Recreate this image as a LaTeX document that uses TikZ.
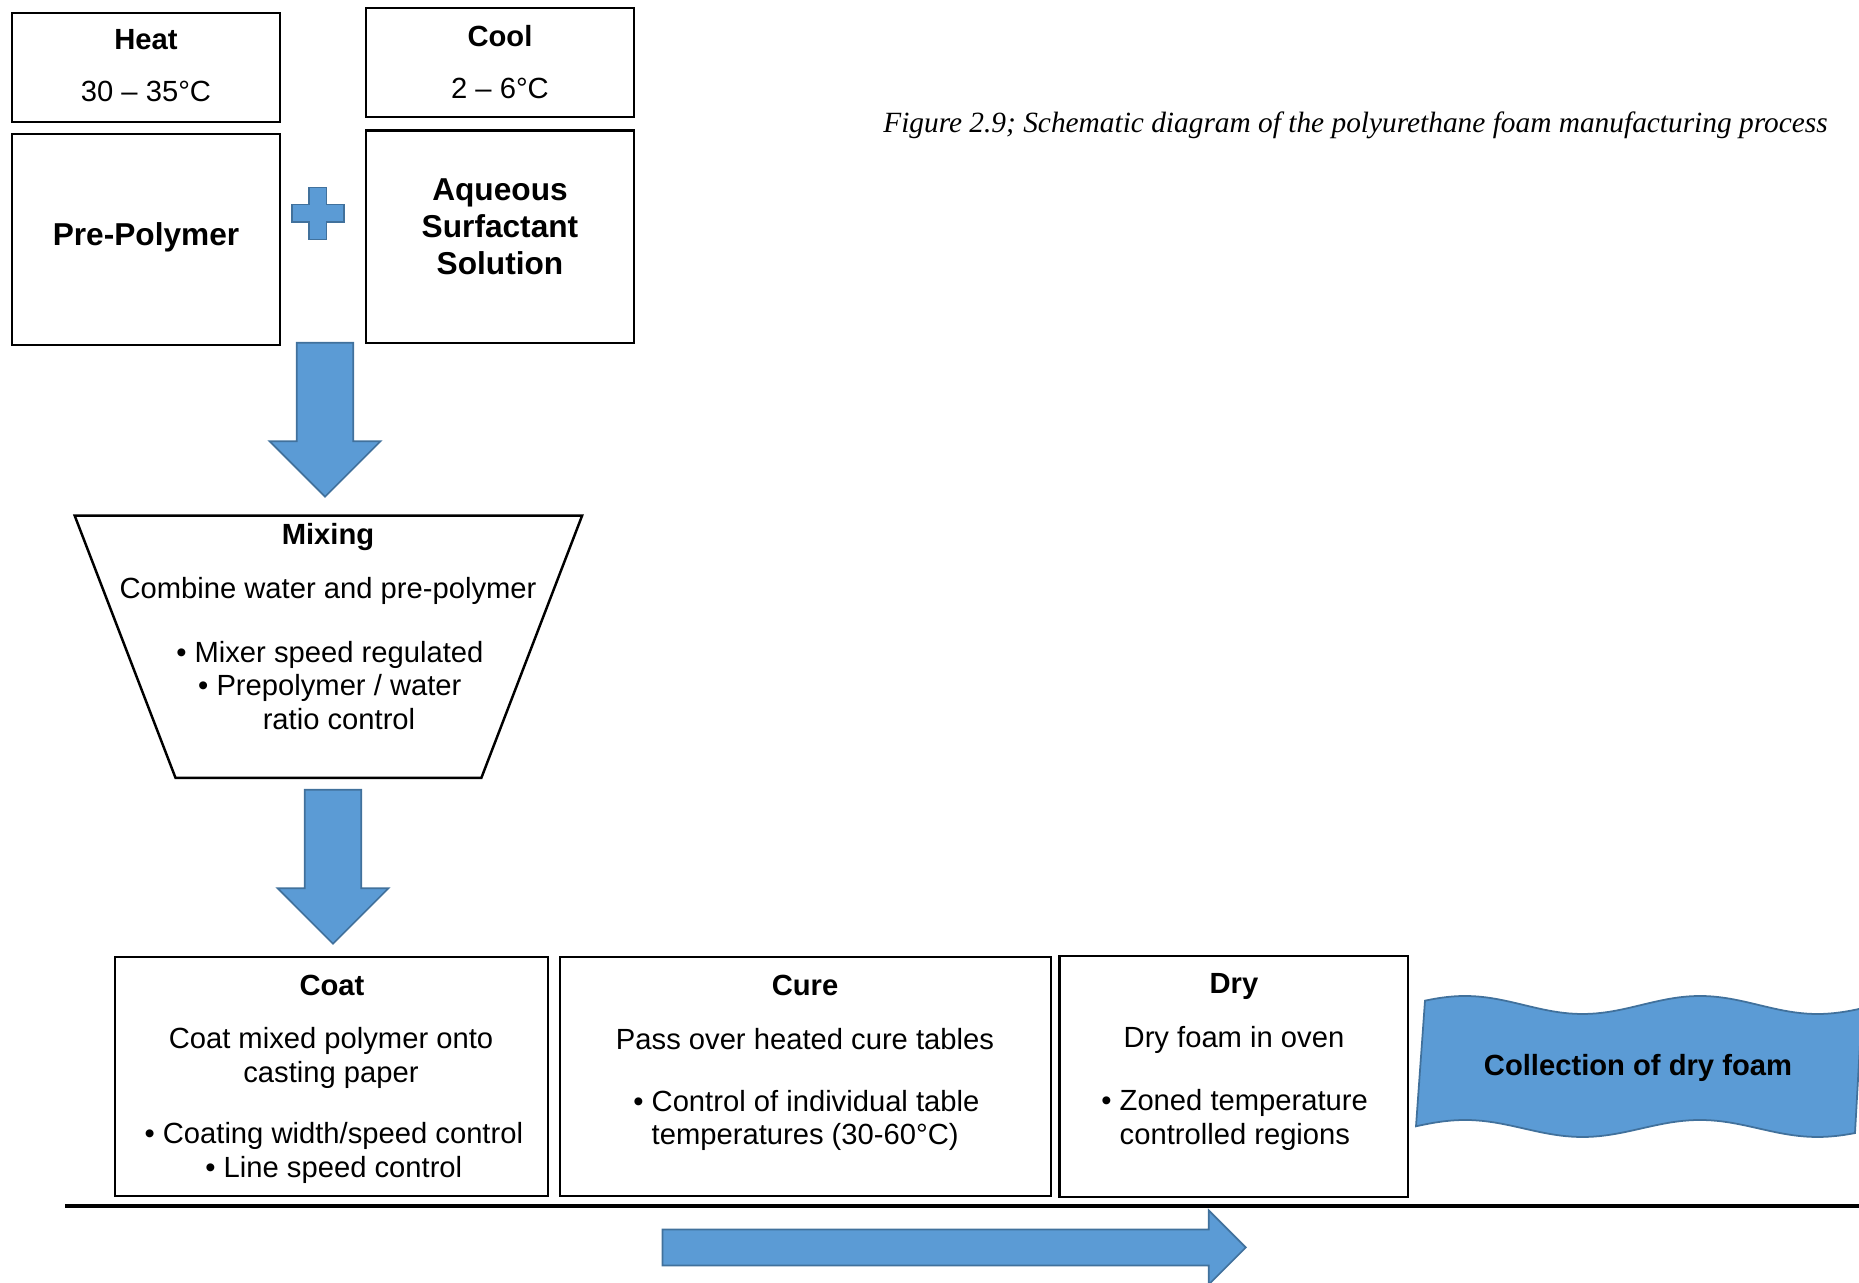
\documentclass[tikz,border=0pt]{standalone}
\usepackage{fontspec}
\setmainfont{Liberation Sans}
\newfontfamily\capfont{Liberation Serif}
\usetikzlibrary{positioning, shapes.arrows}
\definecolor{fillblue}{HTML}{5B9BD5}
\definecolor{edgeblue}{HTML}{41719C}
\tikzset{
  box/.style={draw, line width=0.6pt, inner sep=0pt},
  txt/.style={inner sep=0pt, align=center, font=\fontsize{8.3}{9.6}\selectfont},
  ttl/.style={txt, font=\fontsize{8.3}{9.6}\selectfont\bfseries},
  big/.style={txt, font=\fontsize{9}{10.5}\selectfont\bfseries},
  bluefill/.style={fill=fillblue, draw=edgeblue, line width=0.5pt},
  fatarrow/.style={bluefill, single arrow, single arrow tip angle=90, inner xsep=0pt, anchor=tip},
}
\newcommand{\blt}{\llap{\textbullet\ }}

\begin{document}
\begin{tikzpicture}[x=0.01cm, y=-0.01cm]
    \useasboundingbox (0,0) rectangle (1859,1283);
    %
    \node [box, minimum width=2.68cm, minimum height=1.09cm] (heat) at (146,67.5) {};
    \node [box, minimum width=2.68cm, minimum height=2.11cm, below=0.1cm of heat] (pre) {};
    \node [box, minimum width=2.68cm, minimum height=1.09cm] (cool) at (500.3,62.9) {};
    \node [box, minimum width=2.68cm, minimum height=2.12cm, below=0.11cm of cool] (aq) {};
    \node [ttl] (heatT) at (146,40) {Heat};
    \node [txt] (heatV) at (146,91) {30 – 35°C};
    \node [ttl] (coolT) at (500,36) {Cool};
    \node [txt] (coolV) at (500,88) {2 – 6°C};
    \node [big] (preT) at (146,237.5) {Pre-Polymer};
    \node [big] (aqT) at (500,227) {Aqueous\\Surfactant\\Solution};
    \draw [bluefill] (308.9,187.4) -- ++(17.6,0) -- ++(0,17.2) -- ++(17.2,0) -- ++(0,17.6) -- ++(-17.2,0)
        -- ++(0,17.2) -- ++(-17.6,0) -- ++(0,-17.2) -- ++(-17.2,0) -- ++(0,-17.6) -- ++(17.2,0) -- cycle;
    %
    \node [fatarrow, rotate=-90, inner ysep=0.2725cm, single arrow head extend=0.2725cm, minimum height=1.54cm] (down1) at (325,498) {};
    \draw [line width=0.7pt] (74.7,515.7) -- (582.1,515.7) -- (481.4,777.8) -- (175.5,777.8) -- cycle;
    \node [ttl] (mixT) at (328,537.5) {Mixing};
    \node [txt] (mixA) at (328,590.5) {Combine water and pre-polymer};
    \node [txt] (mixB) at (339,685.5) {\blt Mixer speed regulated\\\blt Prepolymer / water\\ratio control};
    \node [fatarrow, rotate=-90, inner ysep=0.2725cm, single arrow head extend=0.2725cm, minimum height=1.54cm] (down2) at (333,945) {};
    %
    \node [box, minimum width=4.33cm, minimum height=2.395cm] (coat) at (331.4,1076.5) {};
    \node [box, minimum width=4.91cm, minimum height=2.395cm, right=0.095cm of coat] (cure) {};
    \node [box, minimum width=3.485cm, minimum height=2.405cm, right=0.065cm of cure] (dry) {};
    \node [ttl] (coatT) at (332,985) {Coat};
    \node [txt] (coatA) at (331,1058) {Coat mixed polymer onto\\casting paper};
    \node [txt] (coatB) at (343,1153) {\blt Coating width/speed control\\\blt Line speed control};
    \node [ttl] (cureT) at (805,985) {Cure};
    \node [txt] (cureA) at (805,1039) {Pass over heated cure tables};
    \node [txt, align=left, anchor=west] (cureB) at (651,1120.5) {\blt Control of individual table\\temperatures (30-60°C)};
    \node [ttl] (dryT) at (1234,986) {Dry};
    \node [txt] (dryA) at (1234,1040) {Dry foam in oven};
    \node [txt, align=left, anchor=west] (dryB) at (1119,1120) {\blt Zoned temperature\\controlled regions};
    %
    \draw [bluefill] plot[domain=1425:1862, samples=80] (\x, {1005-9*cos((\x-1465)*1.5319)})
        -- plot[domain=1855:1416, samples=80] (\x, {1128.5-8.5*cos((\x-1465)*1.5319)}) -- cycle;
    \node [ttl] (coll) at (1638,1068) {Collection of dry foam};
    %
    \coordinate (l0) at (65,1206);
    \coordinate (l1) at (1859,1206);
    \draw [line width=1.2pt] (l0) -- (l1);
    \node [fatarrow, inner ysep=0.1715cm, single arrow head extend=0.19cm, minimum height=5.83cm] (flow) at (1247,1247.5) {};
    %
    \node [inner sep=0pt, font=\capfont\itshape\fontsize{8.35}{10}\selectfont] (cap) at (1355.5,125)
        {Figure 2.9; Schematic diagram of the polyurethane foam manufacturing process};
\end{tikzpicture}
\end{document}
